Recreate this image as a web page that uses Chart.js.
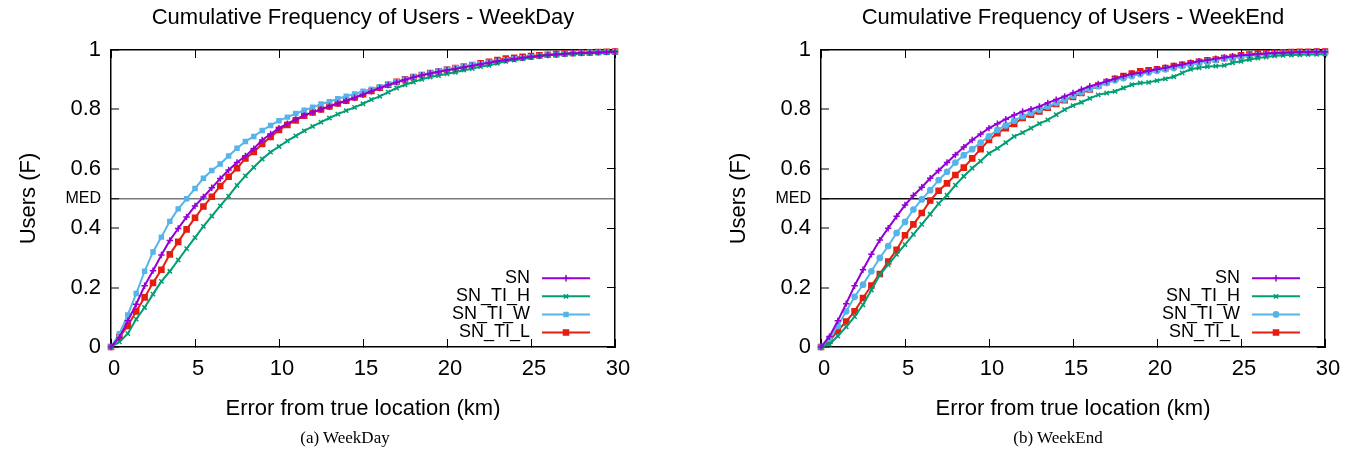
<!DOCTYPE html>
<html>
<head>
<meta charset="utf-8">
<script src="https://cdn.jsdelivr.net/npm/chart.js@4.4.0/dist/chart.umd.min.js"></script>
<style>
  body { margin: 0; background: #fff; overflow: hidden; }
  #page { position: relative; width: 1351px; height: 455px; }
  .panel { position: absolute; top: 0; }
  .caption { position: absolute; top: 428px; width: 240px; text-align: center;
             font-family: "Liberation Serif", "Times New Roman", serif; font-size: 17px; color: #000; }
</style>
</head>
<body>
<div id="page">
  <div class="panel" style="left:0"><canvas id="weekday" width="680" height="430"></canvas></div>
  <div class="panel" style="left:710px"><canvas id="weekend" width="680" height="430"></canvas></div>
  <div class="caption" style="left:225px">(a) WeekDay</div>
  <div class="caption" style="left:938px">(b) WeekEnd</div>
</div>
<script>
// distance from true location (km), one sample every 0.5 km
const dist = [0, 0.5, 1, 1.5, 2, 2.5, 3, 3.5, 4, 4.5, 5, 5.5, 6, 6.5, 7, 7.5, 8, 8.5, 9, 9.5,
  10, 10.5, 11, 11.5, 12, 12.5, 13, 13.5, 14, 14.5, 15, 15.5, 16, 16.5, 17, 17.5, 18, 18.5, 19, 19.5,
  20, 20.5, 21, 21.5, 22, 22.5, 23, 23.5, 24, 24.5, 25, 25.5, 26, 26.5, 27, 27.5, 28, 28.5, 29, 29.5, 30];

const names = ['SN', 'SN_TI_H', 'SN_TI_W', 'SN_TI_L'];

// WeekDay CDFs
const wdSN = [0, 0.032, 0.088, 0.144, 0.206, 0.257, 0.31, 0.359, 0.399, 0.438, 0.475, 0.505, 0.536, 0.567, 0.596, 0.621, 0.643, 0.668, 0.697, 0.717,
  0.737, 0.752, 0.766, 0.78, 0.79, 0.8, 0.81, 0.82, 0.829, 0.839, 0.85, 0.861, 0.872, 0.882, 0.891, 0.9, 0.908, 0.915, 0.921, 0.927,
  0.932, 0.937, 0.942, 0.947, 0.952, 0.957, 0.962, 0.966, 0.97, 0.974, 0.977, 0.98, 0.983, 0.985, 0.987, 0.989, 0.99, 0.991, 0.992, 0.993, 0.994];
const wdH = [0, 0.017, 0.045, 0.094, 0.133, 0.178, 0.221, 0.255, 0.293, 0.331, 0.368, 0.406, 0.441, 0.475, 0.508, 0.544, 0.576, 0.605, 0.633, 0.656,
  0.675, 0.694, 0.711, 0.728, 0.743, 0.757, 0.771, 0.784, 0.796, 0.807, 0.819, 0.833, 0.844, 0.858, 0.872, 0.883, 0.892, 0.901, 0.909, 0.914,
  0.92, 0.925, 0.932, 0.937, 0.944, 0.948, 0.955, 0.962, 0.966, 0.97, 0.974, 0.979, 0.982, 0.984, 0.985, 0.986, 0.988, 0.989, 0.99, 0.991, 0.992];
const wdW = [0, 0.045, 0.108, 0.18, 0.255, 0.32, 0.37, 0.423, 0.465, 0.499, 0.534, 0.568, 0.594, 0.616, 0.643, 0.669, 0.692, 0.709, 0.729, 0.746,
  0.762, 0.774, 0.786, 0.797, 0.807, 0.818, 0.826, 0.836, 0.844, 0.852, 0.861, 0.868, 0.876, 0.885, 0.893, 0.902, 0.91, 0.917, 0.923, 0.929,
  0.935, 0.94, 0.945, 0.95, 0.954, 0.959, 0.963, 0.967, 0.971, 0.974, 0.977, 0.98, 0.983, 0.985, 0.987, 0.989, 0.99, 0.991, 0.992, 0.993, 0.994];
const wdL = [0, 0.034, 0.071, 0.12, 0.167, 0.216, 0.26, 0.312, 0.354, 0.396, 0.435, 0.473, 0.506, 0.542, 0.573, 0.602, 0.635, 0.657, 0.684, 0.707,
  0.731, 0.748, 0.763, 0.779, 0.79, 0.8, 0.81, 0.82, 0.829, 0.84, 0.851, 0.862, 0.873, 0.883, 0.893, 0.901, 0.909, 0.916, 0.922, 0.928,
  0.934, 0.939, 0.944, 0.949, 0.955, 0.96, 0.966, 0.971, 0.974, 0.977, 0.98, 0.982, 0.984, 0.986, 0.988, 0.99, 0.991, 0.992, 0.993, 0.994, 0.995];

// WeekEnd CDFs
const weSN = [0, 0.035, 0.088, 0.146, 0.206, 0.26, 0.312, 0.36, 0.4, 0.44, 0.478, 0.51, 0.538, 0.568, 0.594, 0.621, 0.647, 0.673, 0.697, 0.717,
  0.737, 0.752, 0.767, 0.781, 0.793, 0.801, 0.81, 0.822, 0.833, 0.844, 0.855, 0.867, 0.878, 0.886, 0.895, 0.903, 0.912, 0.919, 0.923, 0.929,
  0.935, 0.94, 0.946, 0.951, 0.957, 0.962, 0.966, 0.971, 0.975, 0.979, 0.982, 0.984, 0.986, 0.988, 0.99, 0.991, 0.992, 0.993, 0.993, 0.994, 0.994];
const weH = [0, 0.009, 0.037, 0.068, 0.102, 0.142, 0.192, 0.243, 0.277, 0.312, 0.345, 0.379, 0.413, 0.447, 0.483, 0.511, 0.545, 0.575, 0.602, 0.626,
  0.652, 0.669, 0.688, 0.709, 0.722, 0.737, 0.752, 0.765, 0.782, 0.799, 0.813, 0.824, 0.837, 0.849, 0.855, 0.861, 0.872, 0.883, 0.889, 0.891,
  0.897, 0.903, 0.91, 0.923, 0.935, 0.94, 0.944, 0.946, 0.948, 0.957, 0.962, 0.968, 0.973, 0.976, 0.98, 0.982, 0.983, 0.984, 0.985, 0.985, 0.986];
const weW = [0, 0.028, 0.071, 0.12, 0.169, 0.21, 0.255, 0.3, 0.34, 0.384, 0.421, 0.463, 0.497, 0.528, 0.562, 0.59, 0.621, 0.646, 0.666, 0.688,
  0.709, 0.731, 0.746, 0.762, 0.777, 0.788, 0.799, 0.81, 0.822, 0.833, 0.846, 0.858, 0.869, 0.878, 0.889, 0.898, 0.905, 0.912, 0.919, 0.924,
  0.93, 0.935, 0.939, 0.946, 0.951, 0.957, 0.962, 0.966, 0.971, 0.974, 0.977, 0.981, 0.983, 0.985, 0.987, 0.988, 0.989, 0.99, 0.99, 0.991, 0.991];
const weL = [0, 0.02, 0.054, 0.086, 0.12, 0.165, 0.207, 0.246, 0.288, 0.327, 0.376, 0.413, 0.451, 0.493, 0.526, 0.551, 0.579, 0.604, 0.635, 0.666,
  0.697, 0.72, 0.737, 0.751, 0.771, 0.782, 0.793, 0.806, 0.818, 0.831, 0.842, 0.855, 0.867, 0.88, 0.892, 0.903, 0.912, 0.921, 0.928, 0.932,
  0.935, 0.939, 0.946, 0.95, 0.955, 0.96, 0.965, 0.968, 0.973, 0.976, 0.982, 0.985, 0.988, 0.989, 0.991, 0.992, 0.993, 0.994, 0.994, 0.995, 0.995];

const yTicks = [0, 0.2, 0.4, 0.5, 0.6, 0.8, 1];
const boxTicks = [0, 0.2, 0.4, 0.6, 0.8, 1];
const medAt = 0.5;
const medLabel = 'MED';

const FONT = '"Liberation Sans", Arial, Helvetica, sans-serif';
const colours = ['#9400d3', '#009e73', '#56b4e9', '#e51e10'];

// gnuplot-like key in the lower right corner: text, then line sample with marker
const cornerKey = {
  id: 'cornerKey',
  afterDatasetsDraw(chart) {
    const {ctx, chartArea} = chart;
    const sets = chart.data.datasets;
    ctx.save();
    ctx.font = '18px ' + FONT;
    ctx.textAlign = 'right';
    ctx.textBaseline = 'middle';
    sets.forEach((ds, i) => {
      const y = chartArea.bottom - 14.5 - (sets.length - 1 - i) * 18.1;
      ctx.fillStyle = '#000';
      ctx.fillText(ds.label, chartArea.right - 85, y);
      ctx.strokeStyle = ds.borderColor;
      ctx.lineWidth = 2;
      ctx.beginPath();
      ctx.moveTo(chartArea.right - 73, y);
      ctx.lineTo(chartArea.right - 25, y);
      ctx.stroke();
      ctx.fillStyle = ds.borderColor;
      ctx.lineWidth = ds.pointBorderWidth;
      Chart.helpers.drawPoint(ctx, {
        pointStyle: ds.pointStyle, radius: ds.pointRadius,
        borderWidth: ds.pointBorderWidth, rotation: 0
      }, chartArea.right - 49, y);
    });
    ctx.restore();
  }
};

function makeSet(i, values, style, radius) {
  return {
    label: names[i],
    data: dist.map((d, k) => ({x: d, y: values[k]})),
    borderColor: colours[i],
    backgroundColor: colours[i],
    borderWidth: 2,
    pointStyle: style,
    pointRadius: radius,
    pointBorderWidth: 1.5,
    pointBackgroundColor: colours[i],
    pointBorderColor: colours[i],
    tension: 0,
    clip: false,
    xAxisID: 'x',
    yAxisID: 'y'
  };
}

function drawPanel(id, title, series, wStyle, wRadius, medColour) {
  const inTicks = {drawOnChartArea: false, tickLength: -8, tickColor: '#000', tickWidth: 1};
  const frame = {display: true, color: '#000', width: 1.5};
  new Chart(document.getElementById(id), {
    type: 'line',
    data: {
      datasets: [
        makeSet(0, series[0], 'cross', 3.2),
        makeSet(1, series[1], 'crossRot', 3),
        makeSet(2, series[2], wStyle, wRadius),
        makeSet(3, series[3], 'rect', 3.6)
      ]
    },
    options: {
      responsive: false,
      devicePixelRatio: 1,
      animation: false,
      layout: {padding: {left: 0, right: 65, top: 0, bottom: 0}},
      plugins: {
        legend: {display: false},
        tooltip: {enabled: false},
        title: {
          display: true, text: title, fullSize: false, color: '#000',
          font: {family: FONT, size: 22, weight: 'normal'},
          padding: {top: 5, bottom: 18.6}
        }
      },
      scales: {
        x: {
          type: 'linear', position: 'bottom', min: 0, max: 30,
          ticks: {stepSize: 5, color: '#000', padding: 17, labelOffset: 3, maxRotation: 0,
                  font: {family: FONT, size: 22}},
          grid: inTicks,
          border: frame,
          title: {display: true, text: 'Error from true location (km)', color: '#000',
                  font: {family: FONT, size: 22}, padding: {top: 0, bottom: 8}},
          afterFit: s => { s.height = 83; }
        },
        y: {
          type: 'linear', position: 'left', min: 0, max: 1,
          afterBuildTicks: s => { s.ticks = yTicks.map(v => ({value: v})); },
          ticks: {
            color: '#000', padding: 18,
            callback: v => (v === medAt ? medLabel : v),
            font: c => (c.tick && c.tick.value === medAt ? {family: FONT, size: 16} : {family: FONT, size: 22})
          },
          grid: {
            drawOnChartArea: true, tickLength: -8, tickColor: '#000', tickWidth: 1,
            color: c => (c.tick && c.tick.value === medAt ? medColour : 'rgba(0,0,0,0)'),
            lineWidth: c => (c.tick && c.tick.value === medAt ? 1.5 : 0)
          },
          border: frame,
          title: {display: true, text: 'Users (F)', color: '#000',
                  font: {family: FONT, size: 22}, padding: {top: 16, bottom: 0}},
          afterFit: s => { s.width = 111; }
        },
        x2: {
          type: 'linear', position: 'top', min: 0, max: 30,
          ticks: {stepSize: 5, display: false},
          grid: inTicks,
          border: frame,
          afterFit: s => { s.height = 0; }
        },
        y2: {
          type: 'linear', position: 'right', min: 0, max: 1,
          afterBuildTicks: s => { s.ticks = boxTicks.map(v => ({value: v})); },
          ticks: {display: false},
          grid: inTicks,
          border: frame,
          afterFit: s => { s.width = 0; }
        }
      }
    },
    plugins: [cornerKey]
  });
}

drawPanel('weekday', 'Cumulative Frequency of Users - WeekDay', [wdSN, wdH, wdW, wdL], 'rect', 2.8, '#7a7a7a');
drawPanel('weekend', 'Cumulative Frequency of Users - WeekEnd', [weSN, weH, weW, weL], 'circle', 2.6, '#111111');
</script>
</body>
</html>
